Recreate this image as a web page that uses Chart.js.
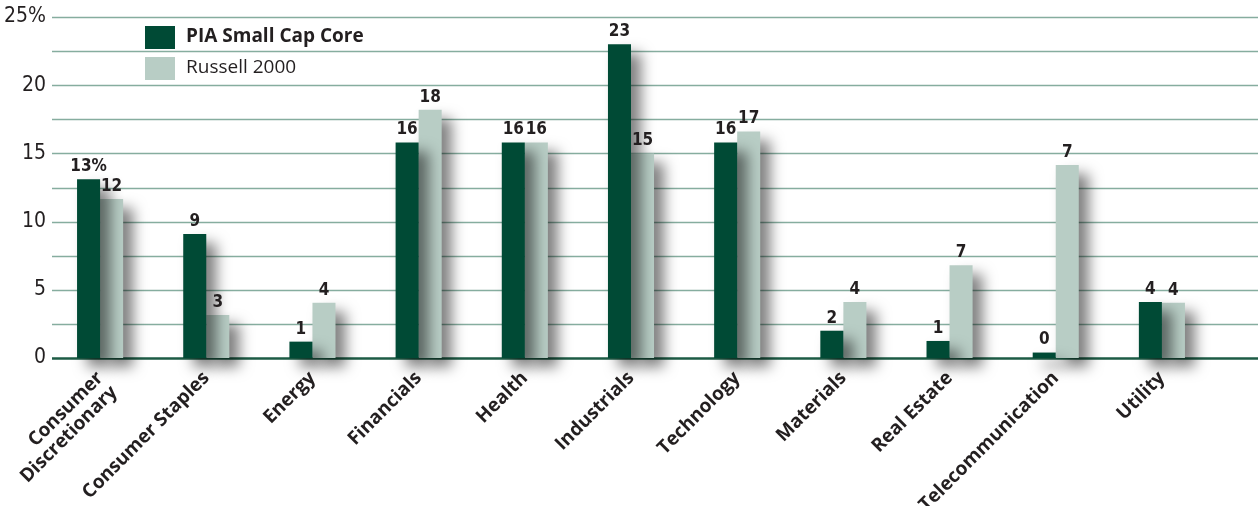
<!DOCTYPE html>
<html>
<head>
<meta charset="utf-8">
<script src="https://cdn.jsdelivr.net/npm/chart.js@4"></script>
<style>
  html, body { margin: 0; padding: 0; background: #fff; }
  #wrap { width: 1258px; height: 506px; }
</style>
</head>
<body>
<div id="wrap"><canvas id="sectorChart"></canvas></div>
<script>
const sectors = [['Consumer', 'Discretionary'], 'Consumer Staples', 'Energy', 'Financials', 'Health',
    'Industrials', 'Technology', 'Materials', 'Real Estate', 'Telecommunication', 'Utility'];
const piaValues = [13.1, 9.1, 1.2, 15.8, 15.8, 23.0, 15.8, 2.0, 1.25, 0.4, 4.1];
const russellValues = [11.65, 3.15, 4.05, 18.2, 15.8, 15.0, 16.6, 4.1, 6.8, 14.15, 4.05];
const piaLabels = ['13%', '9', '1', '16', '16', '23', '16', '2', '1', '0', '4'];
const russellLabels = ['12', '3', '4', '18', '16', '15', '17', '4', '7', '7', '4'];
const yTicks = [0, 5, 10, 15, 20, 25];

const darkGreen = '#004a35';
const lightGreen = '#b8cdc5';
const narrow = "'DejaVu Sans Condensed', 'Liberation Sans Narrow', sans-serif";

// soft drop shadow behind the bars
const barShadow = {
    id: 'barShadow',
    beforeDatasetsDraw(chart) {
        const ctx = chart.ctx;
        ctx.save();
        ctx.shadowColor = 'rgba(0,0,0,0.5)';
        ctx.shadowBlur = 14;
        ctx.shadowOffsetX = 10;
        ctx.shadowOffsetY = 9;
    },
    afterDatasetsDraw(chart) {
        chart.ctx.restore();
    }
};

// horizontal rules, running past the bars to the right edge
const rules = {
    id: 'rules',
    beforeDatasetsDraw(chart) {
        const ctx = chart.ctx;
        const y = chart.scales.y;
        ctx.save();
        y.ticks.forEach(t => {
            const py = Math.round(y.getPixelForValue(t.value)) + 0.5;
            ctx.beginPath();
            ctx.strokeStyle = t.value === 0 ? '#1d5b45' : '#86ad9f';
            ctx.lineWidth = t.value === 0 ? 2.5 : 1.5;
            ctx.moveTo(52, py);
            ctx.lineTo(chart.width, py);
            ctx.stroke();
        });
        ctx.restore();
    }
};

const valueLabels = {
    id: 'valueLabels',
    afterDatasetsDraw(chart) {
        const ctx = chart.ctx;
        const texts = [piaLabels, russellLabels];
        ctx.save();
        ctx.font = 'bold 17px ' + narrow;
        ctx.fillStyle = '#231f20';
        ctx.textAlign = 'center';
        ctx.textBaseline = 'bottom';
        chart.data.datasets.forEach((ds, i) => {
            chart.getDatasetMeta(i).data.forEach((bar, j) => {
                ctx.fillText(texts[i][j], bar.x, bar.y - 4);
            });
        });
        ctx.restore();
    }
};

const boxLegend = {
    id: 'boxLegend',
    afterDraw(chart) {
        const ctx = chart.ctx;
        const x = 145, y0 = 26, rowH = 31;
        ctx.save();
        chart.data.datasets.forEach((ds, i) => {
            const y = y0 + i * rowH;
            ctx.fillStyle = ds.backgroundColor;
            ctx.fillRect(x, y, 30, 23);
            ctx.fillStyle = '#231f20';
            ctx.font = (i === 0 ? 'bold ' : '') + "19px 'Open Sans', sans-serif";
            ctx.textBaseline = 'middle';
            ctx.fillText(ds.label, x + 41, y + 11);
        });
        ctx.restore();
    }
};

const ctx = document.getElementById('sectorChart').getContext('2d');
const sectorChart = new Chart(ctx, {
    type: 'bar',
    data: {
        labels: sectors,
        datasets: [{
            label: 'PIA Small Cap Core',
            data: piaValues,
            backgroundColor: darkGreen,
            clip: false
        }, {
            label: 'Russell 2000',
            data: russellValues,
            backgroundColor: lightGreen,
            clip: false
        }]
    },
    options: {
        responsive: true,
        maintainAspectRatio: false,
        animation: false,
        layout: { padding: { top: 17, right: 43, left: 0, bottom: 0 } },
        datasets: { bar: { categoryPercentage: 0.434, barPercentage: 1.0 } },
        plugins: {
            legend: { display: false },
            tooltip: { enabled: false }
        },
        scales: {
            x: {
                grid: { display: false, drawTicks: false },
                border: { display: false },
                afterFit(scale) {
                    scale.height = 148;
                    scale.paddingLeft = 0;
                    scale.paddingRight = 0;
                },
                ticks: {
                    autoSkip: false,
                    minRotation: 45,
                    maxRotation: 45,
                    padding: 10,
                    color: '#231f20',
                    font: { family: "'Open Sans', sans-serif", size: 19, weight: 'bold', lineHeight: 1.05 }
                }
            },
            y: {
                min: 0,
                max: 25,
                grid: { display: false, drawTicks: false },
                border: { display: false },
                afterFit(scale) { scale.width = 47; },
                ticks: {
                    stepSize: 2.5,
                    padding: 1,
                    color: '#231f20',
                    font: { family: narrow, size: 21 },
                    callback: v => yTicks.includes(v) ? (v === 25 ? '25%' : String(v)) : ''
                }
            }
        }
    },
    plugins: [rules, barShadow, valueLabels, boxLegend]
});
</script>
</body>
</html>
